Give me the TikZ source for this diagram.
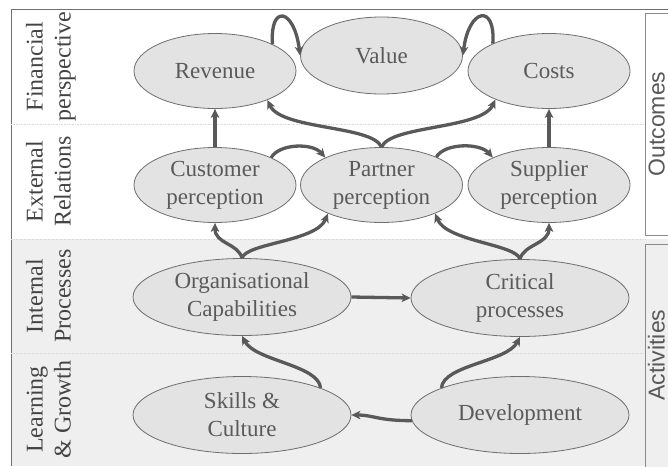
\documentclass[tikz,border=0pt]{standalone}
\usepackage{fontspec}
\setmainfont{Liberation Serif}
\newfontfamily\sidesans{Liberation Sans}
\usetikzlibrary{shapes.geometric,arrows.meta}

\definecolor{bandgray}{HTML}{EFEFEF}
\definecolor{ovalfill}{HTML}{E3E3E3}
\definecolor{ovaledge}{HTML}{6E6E6E}
\definecolor{ovaltext}{HTML}{5A5A5A}
\definecolor{linkgray}{HTML}{595959}
\definecolor{labelgray}{HTML}{434343}
\definecolor{framegray}{HTML}{707070}
\definecolor{boxgray}{HTML}{8A8A8A}
\definecolor{sepgray}{HTML}{DADADA}

\tikzset{
  oval/.style={ellipse, draw=ovaledge, line width=0.8pt, fill=ovalfill,
    inner sep=0pt, text=ovaltext, align=center,
    font=\fontsize{23}{28}\selectfont},
  narrowoval/.style={oval, minimum width=162pt, minimum height=75pt},
  wideoval/.style={oval, minimum width=218pt, minimum height=77pt},
  link/.style={draw=linkgray, line width=3.3pt,
    -{Stealth[length=9pt,width=8.5pt,inset=2.5pt]}},
  bandlabel/.style={rotate=90, align=center, text=labelgray,
    font=\fontsize{24}{28}\selectfont},
  sidelabel/.style={rotate=90, anchor=base, text=linkgray,
    font=\sidesans\fontsize{23}{28}\selectfont},
  separator/.style={draw=sepgray, densely dotted, line width=0.6pt},
}

\begin{document}
\begin{tikzpicture}[x=1pt,y=-1pt]
  \useasboundingbox (0,0) rectangle (668,466);
  \fill[white] (0,0) rectangle (668,466);

  % shaded lower half (activities)
  \fill[bandgray] (11,239) rectangle (668,466);

  % outer frame
  \draw[framegray, line width=0.8pt] (668,9) -- (11,9) -- (11,466);

  % band separators
  \draw[separator] (11,124) -- (645,124);
  \draw[separator] (11,239) -- (645,239);
  \draw[separator] (11,353) -- (645,353);

  % right-hand brackets
  \draw[draw=boxgray, fill=white, line width=0.8pt] (645,13) rectangle (675,235);
  \draw[draw=boxgray, fill=bandgray, line width=0.8pt] (645,244) rectangle (675,480);
  \node[sidelabel] (outc) at (664.5,124) {Outcomes};
  \node[sidelabel] (actv) at (664.5,355) {Activities};

  % band titles
  \node[bandlabel] (fin) at (51,66.5) {\strut Financial\\\strut perspective};
  \node[bandlabel] (ext) at (51,181.5) {\strut External\\\strut Relations};
  \node[bandlabel] (int) at (51,296) {\strut Internal\\\strut Processes};
  \node[bandlabel] (lrn) at (51,409.5) {\strut Learning\\\strut \& Growth};

  % financial perspective
  \node[narrowoval] (rev) at (215,71) {Revenue};
  \node[narrowoval, minimum height=77pt] (val) at (381.5,55.5) {Value};
  \node[narrowoval] (cost) at (549,71) {Costs};

  % external relations
  \node[narrowoval] (cust) at (215,185) {Customer\\perception};
  \node[narrowoval] (part) at (381.5,185) {Partner\\perception};
  \node[narrowoval] (supp) at (549,185) {Supplier\\perception};

  % internal processes
  \node[wideoval] (org) at (242,297) {Organisational\\Capabilities};
  \node[wideoval] (crit) at (520,298) {Critical\\processes};

  % learning and growth
  \node[wideoval] (skill) at (242,415) {Skills \&\\Culture};
  \node[wideoval] (dev) at (520,415) {Development};

  % links
  \draw[link] (cust.north) -- (rev.south);
  \draw[link] (supp.north) -- (cost.south);
  \draw[link] (rev.25) .. controls +(-3,-40) and +(-6,-48) .. (val.west);
  \draw[link] (cost.154) .. controls +(3,-40) and +(6,-48) .. (val.east);

  \draw[link] (part.north) .. controls +(-9,-22) and +(14,30) .. (rev.-29);
  \draw[link] (part.north) .. controls +(9,-22) and +(-14,30) .. (cost.208);

  \draw[link] (cust.26) .. controls +(8,-14) and +(-13,-15) .. (part.154);
  \draw[link] (part.27) .. controls +(8,-14) and +(-13,-15) .. (supp.154);

  \draw[link] (org.north) .. controls +(-4,-15) and +(0,21) .. (cust.south);
  \draw[link] (org.north) .. controls +(4,-15) and +(-11,28) .. (part.208);
  \draw[link] (crit.north) .. controls +(-4,-15) and +(11,28) .. (part.-28);
  \draw[link] (crit.north) .. controls +(4,-15) and +(0,21) .. (supp.south);

  \draw[link] (org.east) -- (crit.west);

  \draw[link] (skill.19) .. controls +(-2,-23) and +(13,25) .. (org.south);
  \draw[link] (dev.161) .. controls +(2,-23) and +(-13,25) .. (crit.south);
  \draw[link] (dev.183) .. controls +(-34,0) and +(22,0) .. (skill.east);
\end{tikzpicture}
\end{document}
